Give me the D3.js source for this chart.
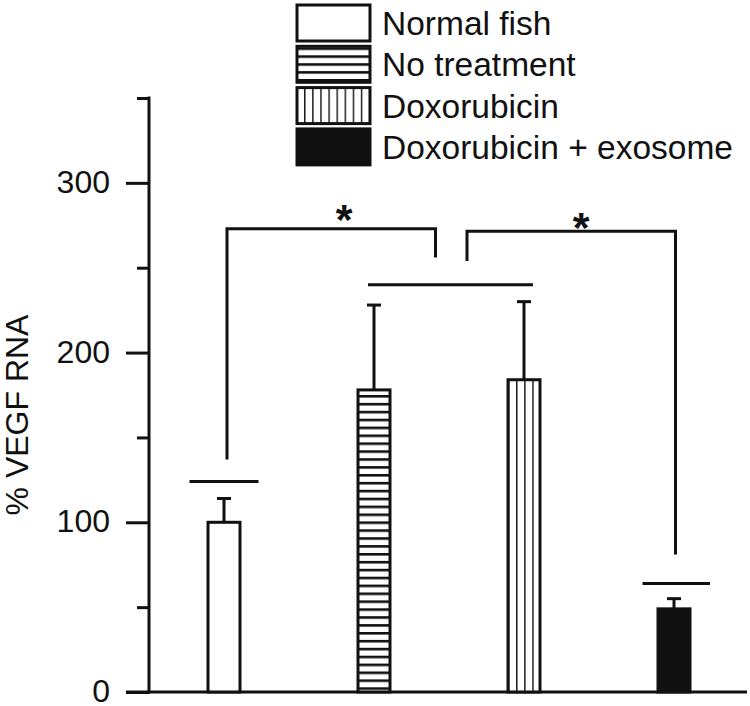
<!DOCTYPE html>
<html><head><meta charset="utf-8">
<script src="https://cdn.jsdelivr.net/npm/d3@7"></script>
<style>body{margin:0;background:#fff}svg{display:block}text{font-family:"Liberation Sans",Arial,sans-serif;fill:#111}</style>
</head><body>
<svg id="c" width="750" height="706"></svg>
<script>
const categories = ["Normal fish","No treatment","Doxorubicin","Doxorubicin + exosome"];
const means = [100, 178, 184, 49];
const errors = [14, 50, 46, 6];
const fills = ["none","hstripe","vstripe","solid"];
const majorTicks = [0, 100, 200, 300];
const minorTicks = [50, 150, 250, 350];
const yLabel = "% VEGF RNA";
// significance annotations in (category index, value) units
const sigLines = [ {x0:-0.23, x1:0.23, v:124}, {x0:0.96, x1:2.06, v:240}, {x0:2.79, x1:3.24, v:64} ];
const brackets = [ {x0:0.02, x1:1.41, v:273, v0:137, v1:256}, {x0:1.62, x1:3.01, v:271.5, v0:254, v1:81} ];
const stars = [ {x:0.80, v:270}, {x:2.38, v:265} ];

const svg = d3.select("#c");
const y = d3.scaleLinear().domain([0,350]).range([692,98]);
const x = d3.scaleBand().domain(categories).range([149,749]);
const xi = d3.scaleLinear().domain([0,3]).range([x(categories[0])+x.bandwidth()/2, x(categories[3])+x.bandwidth()/2]);
const barW = 32;

const defs = svg.append("defs");
const hp = defs.append("pattern").attr("id","hstripe").attr("patternUnits","userSpaceOnUse").attr("width",8).attr("height",7.9);
hp.append("rect").attr("width",8).attr("height",7.9).attr("fill","#fff");
hp.append("rect").attr("y",0).attr("width",8).attr("height",2.6).attr("fill","#111");
const vp = defs.append("pattern").attr("id","vstripe").attr("patternUnits","userSpaceOnUse").attr("width",8.1).attr("height",8).attr("x",x(categories[2])+x.bandwidth()/2-barW/2);
vp.append("rect").attr("width",8.1).attr("height",8).attr("fill","#fff");
vp.append("rect").attr("x",0).attr("width",1.4).attr("height",8).attr("fill","#111");
const lp = defs.append("pattern").attr("id","vstripeL").attr("patternUnits","userSpaceOnUse").attr("width",8.1).attr("height",8).attr("x",296);
lp.append("rect").attr("width",8.1).attr("height",8).attr("fill","#fff");
lp.append("rect").attr("x",0).attr("width",1.4).attr("height",8).attr("fill","#111");
const fillOf = f => f==="none" ? "#fff" : f==="solid" ? "#111" : f==="hstripe" ? "url(#hstripe)" : "url(#vstripe)";

// y axis
const ax = svg.append("g").attr("transform","translate(149,0)");
ax.call(d3.axisLeft(y).tickValues(majorTicks).tickSize(23).tickPadding(16).tickFormat(d3.format("d")));
ax.selectAll("path").remove();
ax.selectAll("line").attr("stroke","#111").attr("stroke-width",3);
ax.selectAll("text").attr("font-size",32).attr("dy","0.3em").style("font-family","'Liberation Sans',Arial,sans-serif").attr("fill","#111");
const ax2 = svg.append("g").attr("transform","translate(149,0)");
ax2.call(d3.axisLeft(y).tickValues(minorTicks).tickSize(12).tickFormat(""));
ax2.selectAll("path").remove();
ax2.selectAll("line").attr("stroke","#111").attr("stroke-width",3);
svg.append("line").attr("x1",149).attr("x2",149).attr("y1",y(0)+1.5).attr("y2",y(350)-1.5).attr("stroke","#111").attr("stroke-width",3);
svg.append("line").attr("x1",126).attr("x2",747).attr("y1",y(0)).attr("y2",y(0)).attr("stroke","#111").attr("stroke-width",3);

svg.append("text").attr("transform",`translate(28,${(y(0)+y(350))/2+20}) rotate(-90)`).attr("text-anchor","middle").attr("font-size",32).text(yLabel);

// bars
const cx = c => x(c)+x.bandwidth()/2;
svg.append("g").selectAll("rect").data(categories).join("rect")
  .attr("x",c=>cx(c)-barW/2).attr("width",barW)
  .attr("y",(c,i)=>y(means[i])).attr("height",(c,i)=>y(0)-y(means[i]))
  .attr("fill",(c,i)=>fillOf(fills[i])).attr("stroke","#111").attr("stroke-width",3);
// error bars
const eb = svg.append("g").attr("stroke","#111").attr("stroke-width",3);
categories.forEach((c,i)=>{
  eb.append("line").attr("x1",cx(c)).attr("x2",cx(c)).attr("y1",y(means[i])).attr("y2",y(means[i]+errors[i]));
  eb.append("line").attr("x1",cx(c)-7).attr("x2",cx(c)+7).attr("y1",y(means[i]+errors[i])).attr("y2",y(means[i]+errors[i]));
});

// annotations
const an = svg.append("g").attr("stroke","#111").attr("stroke-width",3).attr("fill","none");
sigLines.forEach(s=>an.append("line").attr("x1",xi(s.x0)).attr("x2",xi(s.x1)).attr("y1",y(s.v)).attr("y2",y(s.v)));
brackets.forEach(b=>an.append("path").attr("d",`M${xi(b.x0)},${y(b.v0)}V${y(b.v)}H${xi(b.x1)}V${y(b.v1)}`));
svg.append("g").selectAll("text").data(stars).join("text").attr("x",d=>xi(d.x)).attr("y",d=>y(d.v)).attr("text-anchor","middle").attr("font-size",43).attr("font-weight","bold").text("*");

// legend
const lg = svg.append("g");
categories.forEach((c,i)=>{
  const top = 4 + i*41.3;
  lg.append("rect").attr("x",297).attr("y",top+1).attr("width",73).attr("height",36)
    .attr("fill", fills[i]==="vstripe" ? "url(#vstripeL)" : fillOf(fills[i])).attr("stroke","#111").attr("stroke-width",3);
  lg.append("text").attr("x",382).attr("y",top+31).attr("font-size",33.5).text(c);
});
</script>
</body></html>
